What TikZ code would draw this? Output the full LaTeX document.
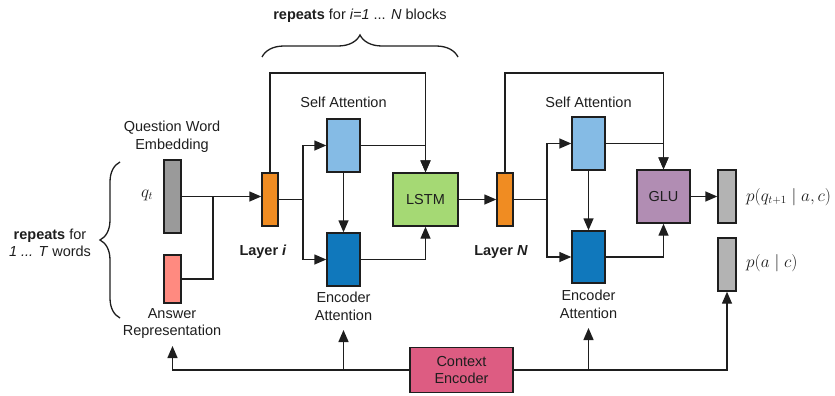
\documentclass[tikz,border=0pt]{standalone}
\usepackage{fontspec}
\setmainfont{Liberation Sans}
\usetikzlibrary{arrows.meta,decorations.pathreplacing}
\definecolor{ink}{HTML}{1E1E1E}
\definecolor{qgray}{HTML}{9A9A9A}
\definecolor{ogray}{HTML}{B3B3B3}
\definecolor{apink}{HTML}{FF8A80}
\definecolor{lorange}{HTML}{F08C22}
\definecolor{lblue}{HTML}{85BBE5}
\definecolor{dblue}{HTML}{1078BC}
\definecolor{lgreen}{HTML}{A5D974}
\definecolor{gpurple}{HTML}{B18DB3}
\definecolor{cpink}{HTML}{DD5C82}
\tikzset{
  box/.style={draw=ink, line width=1.4pt, inner sep=0pt},
  wire/.style={draw=ink, line width=1.4pt},
  arr/.style={wire, -{Triangle[length=12pt,width=10pt]}},
  lbl/.style={text=ink, font=\fontsize{14.5}{17.5}\selectfont, align=center, inner sep=0pt},
  mlbl/.style={text=ink, font=\fontsize{16}{19}\selectfont, inner sep=0pt, anchor=west},
  brc/.style={draw=ink, line width=1.3pt, decorate},
}
\begin{document}
\begin{tikzpicture}[x=1pt,y=-1pt]
\useasboundingbox (0,0) rectangle (835,396);
% boxes
\node[box, fill=qgray, minimum width=17pt, minimum height=73pt] (qe) at (172.5,196.5) {};
\node[box, fill=apink, minimum width=17pt, minimum height=48pt] (ar) at (172.5,279) {};
\node[box, fill=lorange, minimum width=16pt, minimum height=53pt] (li) at (270,199.5) {};
\node[box, fill=lblue, minimum width=33pt, minimum height=53pt] (sa1) at (343.5,145.5) {};
\node[box, fill=dblue, minimum width=33pt, minimum height=53pt] (ea1) at (343.5,259.5) {};
\node[box, fill=lgreen, minimum width=65pt, minimum height=53pt, font=\fontsize{14.5}{17.5}\selectfont, text=ink] (lstm) at (425.5,199.5) {LSTM};
\node[box, fill=lorange, minimum width=16pt, minimum height=53pt] (ln) at (505,199.5) {};
\node[box, fill=lblue, minimum width=33pt, minimum height=53pt] (sa2) at (588.5,143.5) {};
\node[box, fill=dblue, minimum width=33pt, minimum height=52pt] (ea2) at (588.5,257) {};
\node[box, fill=gpurple, minimum width=53pt, minimum height=53pt, font=\fontsize{14.5}{17.5}\selectfont, text=ink] (glu) at (663.5,196.5) {GLU};
\node[box, fill=ogray, minimum width=18pt, minimum height=53pt] (o1) at (727,196.5) {};
\node[box, fill=ogray, minimum width=18pt, minimum height=53pt] (o2) at (727,264.5) {};
\node[box, fill=cpink, minimum width=103pt, minimum height=45pt, font=\fontsize{14.5}{17.5}\selectfont, text=ink, align=center] (ce) at (461.5,370) {Context\\Encoder};
% labels
\node[lbl] (tqe) at (172,137) {Question Word\\Embedding};
\node[lbl, font=\fontsize{16}{19}\selectfont] (tq) at (147,195) {$q_t$};
\node[lbl] (tar) at (172,323.5) {Answer\\Representation};
\node[lbl] (tsa1) at (343.5,102) {Self Attention};
\node[lbl] (tsa2) at (588.5,102) {Self Attention};
\node[lbl] (tea1) at (343.5,306.5) {Encoder\\Attention};
\node[lbl] (tea2) at (588.5,304.5) {Encoder\\Attention};
\node[lbl] (tli) at (263,252) {\textbf{Layer \textit{i}}};
\node[lbl] (tln) at (501,252) {\textbf{Layer \textit{N}}};
\node[mlbl] (tp1) at (746,197) {$p(q_{t+1}\mid a, c)$};
\node[mlbl] (tp2) at (746,263) {$p(a\mid c)$};
\node[lbl] (trw) at (50,243) {\textbf{repeats} for\\\textit{1 ... T} words};
\node[lbl] (trb) at (360,16) {\textbf{repeats} for \textit{i=1} ... \textit{N} blocks};
% braces
\draw[brc, decoration={brace, amplitude=20pt}] (120,318) -- (120,162);
\draw[brc, decoration={brace, amplitude=22pt}] (262,57) -- (458,57);
% coordinates
\coordinate (j1) at (213,196.5);
\coordinate (j2) at (303,199.5);
\coordinate (j3) at (547,199.5);
\coordinate (top1) at (270,73);
\coordinate (top2) at (505,73);
\coordinate (a1) at (172.5,346);
\coordinate (b1) at (343.5,330);
\coordinate (b2) at (588.5,328);
% input wires
\draw[arr] (qe.east) -- (qe.east -| li.west);
\draw[wire] (ar.east) -| (j1);
% block i
\draw[wire] (li.east) -- (j2);
\draw[arr] (j2) |- (sa1.west);
\draw[arr] (j2) |- (ea1.west);
\draw[arr] (sa1.south) -- (ea1.north);
\draw[arr] (sa1.east) -| (lstm.north);
\draw[arr] (ea1.east) -| (lstm.south);
\draw[arr] (li.north) -- (top1) -- (top1 -| lstm.north) -- (lstm.north);
\draw[arr] (lstm.east) -- (ln.west);
% block N
\draw[wire] (ln.east) -- (j3);
\draw[arr] (j3) |- (sa2.west);
\draw[arr] (j3) |- (ea2.west);
\draw[arr] (sa2.south) -- (ea2.north);
\draw[arr] (sa2.east) -| (glu.north);
\draw[arr] (ea2.east) -| (glu.south);
\draw[arr] (ln.north) -- (top2) -- (top2 -| glu.north) -- (glu.north);
\draw[arr] (glu.east) -- (o1.west);
% context encoder
\draw[arr] (ce.west) -| (a1);
\draw[arr] (ce.west -| b1) -- (b1);
\draw[arr] (ce.east) -| (o2.south);
\draw[arr] (ce.east -| b2) -- (b2);
\end{tikzpicture}
\end{document}
